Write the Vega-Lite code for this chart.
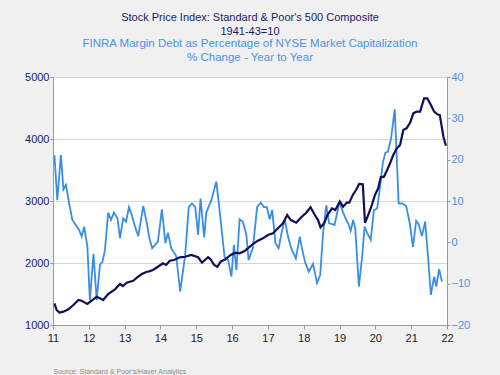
{
  "$schema": "https://vega.github.io/schema/vega-lite/v6.json",
  "width": 394,
  "height": 248,
  "autosize": {"type": "none"},
  "padding": {"left": 53, "top": 77, "right": 53, "bottom": 50},
  "background": "#f0f0f0",
  "view": {"fill": "white", "stroke": null},
  "config": {"font": "Liberation Sans"},
  "title": {
    "text": ["Stock Price Index: Standard & Poor's 500 Composite", "1941-43=10"],
    "subtitle": ["FINRA Margin Debt as Percentage of NYSE Market Capitalization", "% Change - Year to Year"],
    "anchor": "middle",
    "font": "Liberation Sans",
    "fontSize": 11,
    "fontWeight": "normal",
    "color": "#1a1a68",
    "lineHeight": 14,
    "subtitleFont": "Liberation Sans",
    "subtitleFontSize": 11.5,
    "subtitleColor": "#4a92e4",
    "subtitleLineHeight": 14,
    "subtitlePadding": 1,
    "offset": 8
  },
  "datasets": {
    "sp500": [
      {"t": 2011.04, "v": 1350}, {"t": 2011.10, "v": 1242}, {"t": 2011.18, "v": 1199}, {"t": 2011.29, "v": 1215},
      {"t": 2011.43, "v": 1253}, {"t": 2011.57, "v": 1322}, {"t": 2011.71, "v": 1403}, {"t": 2011.80, "v": 1392},
      {"t": 2011.96, "v": 1339}, {"t": 2012.08, "v": 1392}, {"t": 2012.22, "v": 1456}, {"t": 2012.31, "v": 1430},
      {"t": 2012.40, "v": 1403}, {"t": 2012.54, "v": 1500}, {"t": 2012.73, "v": 1576}, {"t": 2012.87, "v": 1661},
      {"t": 2012.95, "v": 1629}, {"t": 2013.06, "v": 1682}, {"t": 2013.24, "v": 1714}, {"t": 2013.35, "v": 1769},
      {"t": 2013.48, "v": 1822}, {"t": 2013.62, "v": 1859}, {"t": 2013.69, "v": 1865}, {"t": 2013.79, "v": 1887},
      {"t": 2013.93, "v": 1940}, {"t": 2014.07, "v": 1995}, {"t": 2014.16, "v": 1968}, {"t": 2014.26, "v": 2037},
      {"t": 2014.38, "v": 2048}, {"t": 2014.54, "v": 2092}, {"t": 2014.69, "v": 2101}, {"t": 2014.86, "v": 2129},
      {"t": 2015.05, "v": 2092}, {"t": 2015.16, "v": 2005}, {"t": 2015.24, "v": 2048}, {"t": 2015.33, "v": 2092},
      {"t": 2015.40, "v": 2060}, {"t": 2015.50, "v": 1968}, {"t": 2015.59, "v": 1940}, {"t": 2015.68, "v": 2021},
      {"t": 2015.81, "v": 2060}, {"t": 2015.96, "v": 2129}, {"t": 2016.09, "v": 2166}, {"t": 2016.21, "v": 2156},
      {"t": 2016.35, "v": 2193}, {"t": 2016.44, "v": 2237}, {"t": 2016.58, "v": 2306}, {"t": 2016.72, "v": 2360},
      {"t": 2016.86, "v": 2398}, {"t": 2017.00, "v": 2451}, {"t": 2017.14, "v": 2479}, {"t": 2017.28, "v": 2559},
      {"t": 2017.42, "v": 2640}, {"t": 2017.54, "v": 2774}, {"t": 2017.64, "v": 2693}, {"t": 2017.79, "v": 2650},
      {"t": 2017.93, "v": 2737}, {"t": 2018.07, "v": 2811}, {"t": 2018.19, "v": 2898}, {"t": 2018.31, "v": 2774},
      {"t": 2018.40, "v": 2693}, {"t": 2018.47, "v": 2576}, {"t": 2018.57, "v": 2640}, {"t": 2018.66, "v": 2774},
      {"t": 2018.79, "v": 2882}, {"t": 2018.88, "v": 2855}, {"t": 2019.01, "v": 2989}, {"t": 2019.10, "v": 2908},
      {"t": 2019.20, "v": 2973}, {"t": 2019.27, "v": 2973}, {"t": 2019.37, "v": 3097}, {"t": 2019.46, "v": 3177},
      {"t": 2019.55, "v": 3274}, {"t": 2019.65, "v": 3269}, {"t": 2019.71, "v": 2650}, {"t": 2019.80, "v": 2774},
      {"t": 2019.90, "v": 2935}, {"t": 2019.99, "v": 3097}, {"t": 2020.08, "v": 3205}, {"t": 2020.15, "v": 3382},
      {"t": 2020.24, "v": 3392}, {"t": 2020.33, "v": 3500}, {"t": 2020.41, "v": 3608}, {"t": 2020.50, "v": 3742},
      {"t": 2020.60, "v": 3850}, {"t": 2020.69, "v": 3903}, {"t": 2020.78, "v": 4145}, {"t": 2020.87, "v": 4172},
      {"t": 2020.97, "v": 4263}, {"t": 2021.06, "v": 4414}, {"t": 2021.15, "v": 4441}, {"t": 2021.25, "v": 4441},
      {"t": 2021.36, "v": 4656}, {"t": 2021.45, "v": 4656}, {"t": 2021.55, "v": 4548}, {"t": 2021.64, "v": 4441},
      {"t": 2021.73, "v": 4398}, {"t": 2021.80, "v": 4387}, {"t": 2021.90, "v": 4037}, {"t": 2021.97, "v": 3892}
    ],
    "margin": [
      {"t": 2011.04, "v": 21.1}, {"t": 2011.12, "v": 10.2}, {"t": 2011.22, "v": 21.1}, {"t": 2011.29, "v": 12.8},
      {"t": 2011.36, "v": 13.9}, {"t": 2011.46, "v": 9.0}, {"t": 2011.54, "v": 5.4}, {"t": 2011.66, "v": 3.9},
      {"t": 2011.73, "v": 3.0}, {"t": 2011.80, "v": 1.4}, {"t": 2011.87, "v": 3.8}, {"t": 2011.96, "v": -1.1},
      {"t": 2012.03, "v": -14.0}, {"t": 2012.13, "v": -2.8}, {"t": 2012.22, "v": -14.0}, {"t": 2012.31, "v": -5.5},
      {"t": 2012.38, "v": -4.7}, {"t": 2012.45, "v": -1.9}, {"t": 2012.54, "v": 7.2}, {"t": 2012.62, "v": 5.4},
      {"t": 2012.70, "v": 7.2}, {"t": 2012.80, "v": 5.8}, {"t": 2012.87, "v": 1.0}, {"t": 2012.96, "v": 5.8},
      {"t": 2013.04, "v": 5.0}, {"t": 2013.12, "v": 8.5}, {"t": 2013.20, "v": 6.6}, {"t": 2013.29, "v": 3.8},
      {"t": 2013.38, "v": 1.5}, {"t": 2013.52, "v": 8.8}, {"t": 2013.62, "v": 4.6}, {"t": 2013.69, "v": 1.0},
      {"t": 2013.77, "v": -1.4}, {"t": 2013.93, "v": 0.2}, {"t": 2014.04, "v": 8.0}, {"t": 2014.14, "v": -0.2},
      {"t": 2014.21, "v": 2.3}, {"t": 2014.30, "v": -1.4}, {"t": 2014.44, "v": -3.3}, {"t": 2014.55, "v": -11.9},
      {"t": 2014.69, "v": -3.1}, {"t": 2014.79, "v": 8.5}, {"t": 2014.88, "v": 9.4}, {"t": 2014.97, "v": 8.6},
      {"t": 2015.05, "v": 1.8}, {"t": 2015.12, "v": 10.6}, {"t": 2015.22, "v": 1.2}, {"t": 2015.28, "v": 7.2},
      {"t": 2015.42, "v": 10.2}, {"t": 2015.56, "v": 14.7}, {"t": 2015.65, "v": 7.8}, {"t": 2015.79, "v": -3.5},
      {"t": 2015.89, "v": -4.3}, {"t": 2015.98, "v": -8.3}, {"t": 2016.05, "v": -0.6}, {"t": 2016.12, "v": -6.7},
      {"t": 2016.21, "v": 5.6}, {"t": 2016.30, "v": 5.0}, {"t": 2016.40, "v": 1.8}, {"t": 2016.46, "v": -4.3},
      {"t": 2016.58, "v": -1.4}, {"t": 2016.70, "v": 8.6}, {"t": 2016.80, "v": 9.6}, {"t": 2016.89, "v": 8.5},
      {"t": 2016.97, "v": 8.5}, {"t": 2017.05, "v": 5.6}, {"t": 2017.12, "v": 7.8}, {"t": 2017.21, "v": -0.2},
      {"t": 2017.30, "v": -1.4}, {"t": 2017.37, "v": 1.8}, {"t": 2017.47, "v": 5.6}, {"t": 2017.56, "v": 1.4},
      {"t": 2017.65, "v": -1.4}, {"t": 2017.78, "v": -3.9}, {"t": 2017.89, "v": 1.4}, {"t": 2017.95, "v": -1.4},
      {"t": 2018.04, "v": -4.9}, {"t": 2018.14, "v": -7.1}, {"t": 2018.26, "v": -5.2}, {"t": 2018.37, "v": -9.8},
      {"t": 2018.46, "v": -7.9}, {"t": 2018.54, "v": 2.2}, {"t": 2018.63, "v": 9.0}, {"t": 2018.71, "v": 4.6},
      {"t": 2018.79, "v": 4.4}, {"t": 2018.86, "v": 4.2}, {"t": 2019.00, "v": 9.8}, {"t": 2019.10, "v": 7.2},
      {"t": 2019.19, "v": 5.4}, {"t": 2019.26, "v": 4.2}, {"t": 2019.31, "v": 2.8}, {"t": 2019.38, "v": 5.4},
      {"t": 2019.44, "v": 3.2}, {"t": 2019.54, "v": -10.7}, {"t": 2019.63, "v": -3.5}, {"t": 2019.70, "v": 3.8},
      {"t": 2019.77, "v": 2.3}, {"t": 2019.87, "v": 0.6}, {"t": 2019.96, "v": 7.8}, {"t": 2020.05, "v": 8.2},
      {"t": 2020.12, "v": 12.7}, {"t": 2020.21, "v": 19.3}, {"t": 2020.28, "v": 21.7}, {"t": 2020.35, "v": 21.9},
      {"t": 2020.44, "v": 25.2}, {"t": 2020.54, "v": 32.2}, {"t": 2020.65, "v": 9.4}, {"t": 2020.75, "v": 9.4},
      {"t": 2020.86, "v": 8.8}, {"t": 2020.96, "v": 4.6}, {"t": 2021.05, "v": -1.1}, {"t": 2021.14, "v": 5.2},
      {"t": 2021.21, "v": 4.4}, {"t": 2021.30, "v": 1.5}, {"t": 2021.39, "v": 5.0}, {"t": 2021.47, "v": -3.5},
      {"t": 2021.55, "v": -12.7}, {"t": 2021.64, "v": -8.3}, {"t": 2021.70, "v": -10.7}, {"t": 2021.78, "v": -6.5},
      {"t": 2021.86, "v": -9.5}
    ]
  },
  "encoding": {
    "x": {
      "field": "t", "type": "quantitative",
      "scale": {"domain": [2011, 2022], "nice": false, "zero": false},
      "axis": {
        "values": [2011, 2011.5, 2012, 2012.5, 2013, 2013.5, 2014, 2014.5, 2015, 2015.5, 2016, 2016.5, 2017, 2017.5, 2018, 2018.5, 2019, 2019.5, 2020, 2020.5, 2021, 2021.5, 2022],
        "format": "d",
        "labelExpr": "datum.value % 1 === 0 ? substring(datum.label, 2, 4) : ''",
        "grid": false,
        "domainColor": "#999999",
        "tickColor": "#999999",
        "tickSize": 4,
        "labelColor": "#222222",
        "labelFontSize": 11,
        "labelPadding": 3,
        "labelFlush": false,
        "labelOverlap": false,
        "labelBound": false,
        "title": "Source:  Standard & Poor's/Haver Analytics",
        "titleFontSize": 7,
        "titleFontWeight": "normal",
        "titleColor": "#8a8a8a",
        "titleAnchor": "start",
        "titleAlign": "left",
        "titleBaseline": "middle",
        "titleX": 0,
        "titleY": 46
      }
    }
  },
  "layer": [
    {
      "data": {"name": "margin"},
      "mark": {"type": "line", "color": "#3a8ee2", "strokeWidth": 1.8, "clip": true},
      "encoding": {
        "y": {
          "field": "v", "type": "quantitative",
          "scale": {"domain": [-20, 40], "nice": false, "zero": false},
          "axis": {
            "orient": "right",
            "values": [-20, -10, 0, 10, 20, 30, 40],
            "grid": false,
            "title": null,
            "domainColor": "#999999",
            "tickColor": "#999999",
            "tickSize": 3,
            "labelColor": "#4a92e4",
            "labelFontSize": 11,
            "labelPadding": 1
          }
        }
      }
    },
    {
      "data": {"name": "sp500"},
      "mark": {"type": "line", "color": "#0f0f5c", "strokeWidth": 2.2, "clip": true},
      "encoding": {
        "y": {
          "field": "v", "type": "quantitative",
          "scale": {"domain": [1000, 5000], "nice": false, "zero": false},
          "axis": {
            "orient": "left",
            "values": [1000, 2000, 3000, 4000, 5000],
            "format": "d",
            "grid": true,
            "gridColor": "#d6d6d6",
            "title": null,
            "domainColor": "#999999",
            "tickColor": "#999999",
            "tickSize": 3,
            "labelColor": "#1a1a68",
            "labelFontSize": 11,
            "labelPadding": 1
          }
        }
      }
    }
  ],
  "resolve": {"scale": {"y": "independent"}}
}
